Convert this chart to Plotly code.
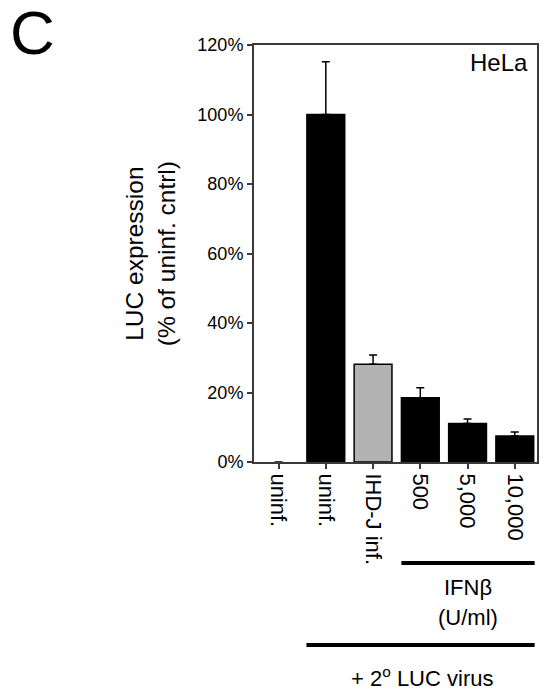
import plotly.graph_objects as go

# ---- data ----
categories = ["uninf.", "uninf.", "IHD-J inf.", "500", "5,000", "10,000"]
values = [0, 100, 28.1, 18.5, 11.1, 7.5]          # LUC expression, % of uninf. control
errors = [0, 15.2, 2.7, 2.9, 1.3, 1.1]
bar_colors = ["black", "black", "#b3b3b3", "black", "black", "black"]
y_ticks = [0, 20, 40, 60, 80, 100, 120]

FONT = "Liberation Sans, Arial, Helvetica, sans-serif"
AX = "#3a3a3a"

positions = list(range(len(categories)))
outline_widths = [0 if v == 0 else 1.5 for v in values]

fig = go.Figure()
fig.add_trace(go.Bar(
    x=positions, y=values, width=0.8,
    marker=dict(color=bar_colors, line=dict(color="black", width=outline_widths)),
    error_y=dict(type="data", array=errors, arrayminus=[0] * len(errors),
                 symmetric=False, color="black", thickness=1.5, width=4),
    showlegend=False,
))

fig.update_layout(
    width=540, height=690,
    margin=dict(l=254, r=1, t=45, b=228),
    paper_bgcolor="white", plot_bgcolor="white",
    font=dict(family=FONT, color="black"),
    bargap=0.2,
    xaxis=dict(
        range=[-0.52, 5.47], tickmode="array", tickvals=positions, ticktext=categories,
        tickangle=90, tickfont=dict(size=22, family=FONT, color="black"),
        showline=True, linecolor=AX, linewidth=2, mirror=True,
        ticks="outside", ticklen=5, tickcolor=AX, tickwidth=1.5,
        showgrid=False, zeroline=False,
    ),
    yaxis=dict(
        range=[0, 120], tickmode="array", tickvals=y_ticks,
        ticktext=[f"{v}%" for v in y_ticks],
        tickfont=dict(size=18, family=FONT, color="black"),
        showline=True, linecolor=AX, linewidth=2, mirror=True,
        ticks="outside", ticklen=5, tickcolor=AX, tickwidth=1.5,
        showgrid=False, zeroline=False,
    ),
)

annotations = [
    dict(text="C", x=-0.87, y=1.03, xref="paper", yref="paper",
         xanchor="left", yanchor="middle", showarrow=False,
         font=dict(size=62, family=FONT, color="black")),
    dict(text="HeLa", x=0.975, y=0.958, xref="paper", yref="paper",
         xanchor="right", yanchor="middle", showarrow=False,
         font=dict(size=24, family=FONT, color="black")),
    dict(text="LUC expression<br>(% of uninf. cntrl)", x=-0.365, y=0.5,
         xref="paper", yref="paper", xanchor="center", yanchor="middle",
         textangle=-90, showarrow=False,
         font=dict(size=24.5, family=FONT, color="black")),
    dict(text="IFNβ", x=4.02, y=-0.302, xref="x", yref="paper",
         xanchor="center", yanchor="middle", showarrow=False,
         font=dict(size=22, family=FONT, color="black")),
    dict(text="(U/ml)", x=4.02, y=-0.374, xref="x", yref="paper",
         xanchor="center", yanchor="middle", showarrow=False,
         font=dict(size=22, family=FONT, color="black")),
    dict(text="+ 2<sup>o</sup> LUC virus", x=3.04, y=-0.515, xref="x", yref="paper",
         xanchor="center", yanchor="middle", showarrow=False,
         font=dict(size=22, family=FONT, color="black")),
]
fig.update_layout(annotations=annotations)

fig.add_shape(type="line", xref="x", yref="paper", x0=2.6, x1=5.42, y0=-0.242, y1=-0.242,
              line=dict(color="black", width=4))
fig.add_shape(type="line", xref="x", yref="paper", x0=0.59, x1=5.42, y0=-0.439, y1=-0.439,
              line=dict(color="black", width=4))

fig.write_html("out.html", config={"displayModeBar": False},
               post_script="document.body.style.margin='0';")
